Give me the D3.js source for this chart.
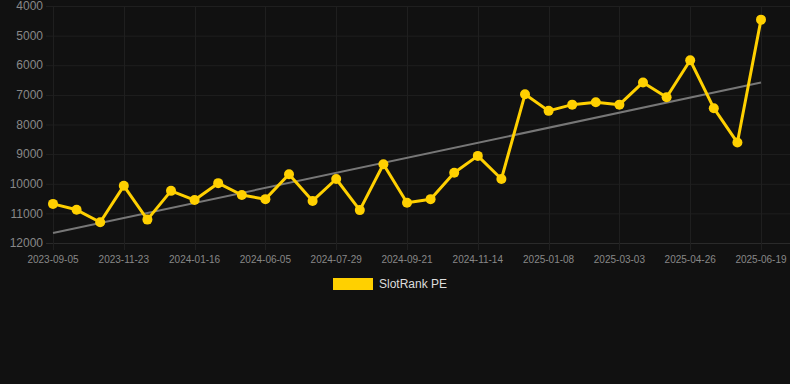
<!DOCTYPE html>
<html>
<head>
<meta charset="utf-8">
<script src="https://cdn.jsdelivr.net/npm/d3@7"></script>
<style>
  html, body { margin: 0; padding: 0; background: #111111; }
  svg { display: block; }
</style>
</head>
<body>
<div id="chart"></div>
<script>
// categories (only every third date is labelled on the axis)
const dates = [
    "2023-09-05", "2023-10-01", "2023-10-27", "2023-11-23", "2023-12-11", "2023-12-29",
    "2024-01-16", "2024-03-03", "2024-04-19", "2024-06-05", "2024-06-23", "2024-07-11",
    "2024-07-29", "2024-08-16", "2024-09-03", "2024-09-21", "2024-10-09", "2024-10-27",
    "2024-11-14", "2024-12-02", "2024-12-20", "2025-01-08", "2025-01-26", "2025-02-13",
    "2025-03-03", "2025-03-21", "2025-04-08", "2025-04-26", "2025-05-14", "2025-06-01",
    "2025-06-19"
];
// SlotRank PE values
const rank = [
    10680, 10880, 11300, 10070, 11210, 10240,
    10550, 9980, 10380, 10520, 9680, 10580,
    9840, 10890, 9340, 10640, 10520, 9630,
    9060, 9840, 6980, 7540, 7330, 7250,
    7330, 6580, 7080, 5830, 7450, 8610,
    4460
];
// trend line end values
const trend = [11665, 6585];
const yTicks = [4000, 5000, 6000, 7000, 8000, 9000, 10000, 11000, 12000];
const xTickLabels = dates.filter((d, i) => i % 3 === 0);

const width = 790, height = 384;

const svg = d3.select("#chart")
    .append("svg")
    .attr("width", width)
    .attr("height", height);

const x = d3.scalePoint()
    .domain(dates)
    .range([53, 761]);

// rank axis: smaller is better, so it runs downward
const y = d3.scaleLinear()
    .domain([4000, 12000])
    .range([6, 243]);

// grid
svg.append("g")
    .selectAll("line")
    .data(yTicks)
    .join("line")
    .attr("x1", 46)
    .attr("x2", width)
    .attr("y1", d => y(d) + 0.5)
    .attr("y2", d => y(d) + 0.5)
    .attr("stroke", d => d === 12000 ? "#2a2a2a" : "#1f1f1f")
    .attr("stroke-width", 1);

svg.append("g")
    .selectAll("line")
    .data(xTickLabels)
    .join("line")
    .attr("x1", d => Math.round(x(d)) + 0.5)
    .attr("x2", d => Math.round(x(d)) + 0.5)
    .attr("y1", y(4000))
    .attr("y2", y(12000) + 7)
    .attr("stroke", "#1f1f1f")
    .attr("stroke-width", 1);

// y labels
svg.append("g")
    .selectAll("text")
    .data(yTicks)
    .join("text")
    .attr("x", 43)
    .attr("y", d => y(d))
    .attr("dy", "0.35em")
    .attr("text-anchor", "end")
    .attr("fill", "#888888")
    .style("font", "12px 'Liberation Sans', Arial, sans-serif")
    .text(d => d);

// x labels
svg.append("g")
    .selectAll("text")
    .data(xTickLabels)
    .join("text")
    .attr("x", d => x(d))
    .attr("y", 259)
    .attr("dy", "0.35em")
    .attr("text-anchor", "middle")
    .attr("fill", "#888888")
    .style("font", "10px 'Liberation Sans', Arial, sans-serif")
    .text(d => d);

// trend line
svg.append("line")
    .attr("x1", x(dates[0]))
    .attr("y1", y(trend[0]))
    .attr("x2", x(dates[dates.length - 1]))
    .attr("y2", y(trend[1]))
    .attr("stroke", "#777777")
    .attr("stroke-width", 2);

// the series
const points = dates.map((d, i) => ({ date: d, value: rank[i] }));

svg.append("path")
    .datum(points)
    .attr("fill", "none")
    .attr("stroke", "#ffd000")
    .attr("stroke-width", 3)
    .attr("stroke-linejoin", "round")
    .attr("d", d3.line()
        .x(d => x(d.date))
        .y(d => y(d.value)));

svg.append("g")
    .selectAll("circle")
    .data(points)
    .join("circle")
    .attr("cx", d => x(d.date))
    .attr("cy", d => y(d.value))
    .attr("r", 5)
    .attr("fill", "#ffd000");

// legend
const legend = svg.append("g");
legend.append("rect")
    .attr("x", 333)
    .attr("y", 278)
    .attr("width", 40)
    .attr("height", 12)
    .attr("fill", "#ffd000");
legend.append("text")
    .attr("x", 379)
    .attr("y", 284)
    .attr("dy", "0.35em")
    .attr("fill", "#dddddd")
    .style("font", "12px 'Liberation Sans', Arial, sans-serif")
    .text("SlotRank PE");
</script>
</body>
</html>
